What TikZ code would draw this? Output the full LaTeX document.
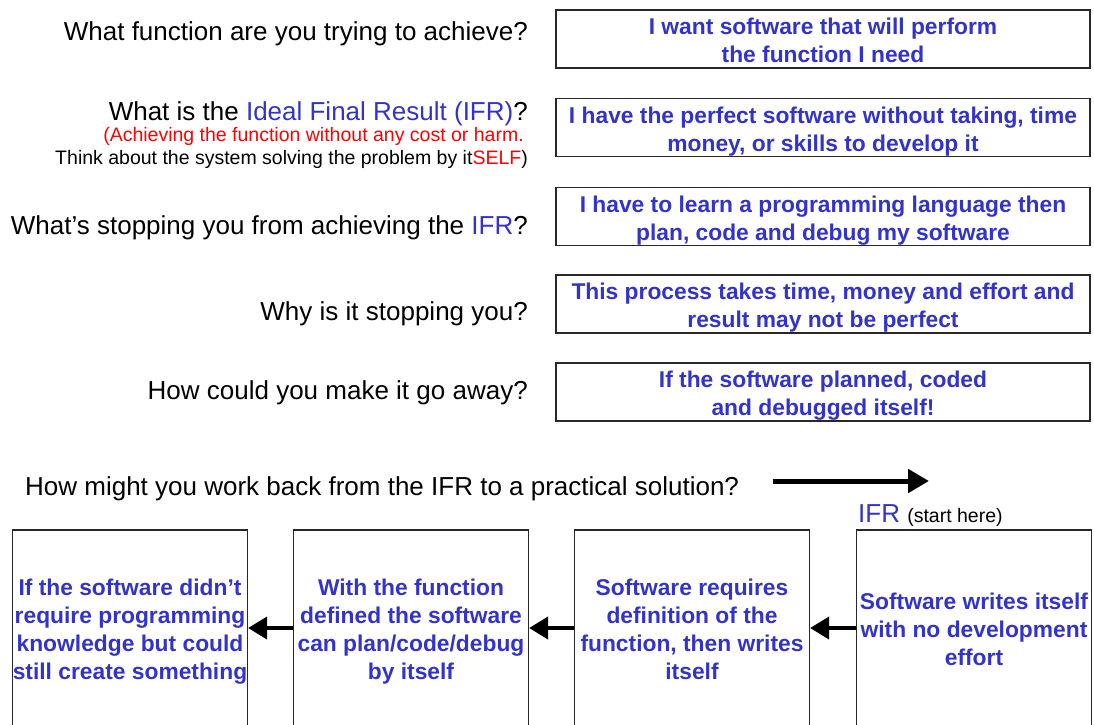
\documentclass[tikz,border=0pt]{standalone}
\usepackage{fontspec}
\setmainfont{Liberation Sans}
\usetikzlibrary{arrows.meta}
\definecolor{tblue}{RGB}{51,51,204}
\definecolor{tred}{RGB}{255,0,0}
\definecolor{tframe}{RGB}{40,40,40}
\newcommand\mylines[1]{\raisebox{-4pt}[\height][\depth]{\begin{tabular}{@{}c@{}}#1\end{tabular}}}
\tikzset{
  question/.style={anchor=east, inner sep=0pt, font=\fontsize{26}{30}\selectfont},
  note/.style={anchor=east, inner sep=0pt, font=\fontsize{19.5}{23}\selectfont},
  answer/.style={draw=tframe, line width=1.2pt, minimum width=534pt, minimum height=58pt,
    inner sep=0pt, text=tblue, font=\fontsize{22.8}{28}\selectfont\bfseries},
  stage/.style={draw=tframe, line width=1.2pt, minimum width=235pt, minimum height=196pt,
    inner sep=0pt, text=tblue, font=\fontsize{22.8}{27.8}\selectfont\bfseries},
  backarrow/.style={line width=4pt, -{Triangle[length=19pt,width=22pt]}},
}
\begin{document}
\begin{tikzpicture}[x=1pt,y=-1pt]
\useasboundingbox (0,0) rectangle (1094,724);
\clip (0,0) rectangle (1094,724);
\fill[white] (0,0) rectangle (1094,724);

% questions
\node[question] (q1) at (528,34) {What function are you trying to achieve?};
\node[question] (q2) at (528,114) {What is the \textcolor{tblue}{Ideal Final Result (IFR)}?};
\node[note, text=tred] (n1) at (524,136) {(Achieving the function without any cost or harm.};
\node[note] (n2) at (528,159) {Think about the system solving the problem by it\textcolor{tred}{SELF})};
\node[question] (q3) at (528,228) {What’s stopping you from achieving the \textcolor{tblue}{IFR}?};
\node[question] (q4) at (528,314) {Why is it stopping you?};
\node[question] (q5) at (528,393) {How could you make it go away?};

% answers
\node[answer] (a1) at (823,39) {\mylines{I want software that will perform\\the function I need}};
\node[answer] (a2) at (823,127.5) {\mylines{I have the perfect software without taking, time\\money, or skills to develop it}};
\node[answer] (a3) at (823,216.5) {\mylines{I have to learn a programming language then\\plan, code and debug my software}};
\node[answer] (a4) at (823,304) {\mylines{This process takes time, money and effort and\\result may not be perfect}};
\node[answer] (a5) at (823,392) {\mylines{If the software planned, coded\\and debugged itself!}};

% work back
\node[question, anchor=west] (wb) at (25,489) {How might you work back from the IFR to a practical solution?};
\coordinate (la) at (773,481);
\coordinate (lb) at (929,481);
\draw[line width=5pt, -{Triangle[length=21pt,width=23pt]}] (la) -- (lb);
\node[anchor=west, inner sep=0pt] (ifr) at (858,516) {\fontsize{26}{30}\selectfont\textcolor{tblue}{IFR} \fontsize{19.5}{23}\selectfont(start here)};

% stages
\node[stage] (s1) at (130,628) {\mylines{If the software didn’t\\require programming\\knowledge but could\\still create something}};
\node[stage] (s2) at (411,628) {\mylines{With the function\\defined the software\\can plan/code/debug\\by itself}};
\node[stage] (s3) at (692,628) {\mylines{Software requires\\definition of the\\function, then writes\\itself}};
\node[stage] (s4) at (974,628) {\mylines{Software writes itself\\with no development\\effort}};

\draw[backarrow] (s4.west) -- (s3.east);
\draw[backarrow] (s3.west) -- (s2.east);
\draw[backarrow] (s2.west) -- (s1.east);
\end{tikzpicture}
\end{document}
